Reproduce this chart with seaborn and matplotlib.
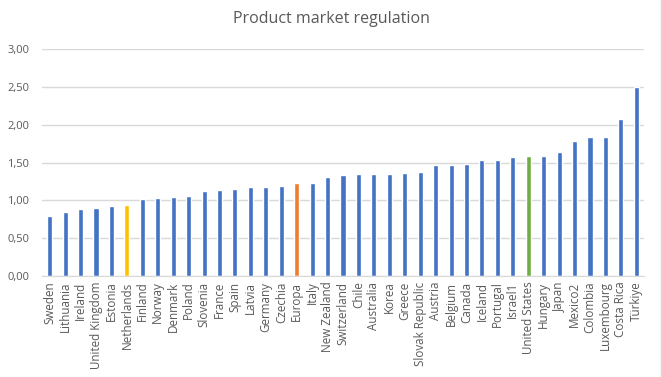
import matplotlib
matplotlib.use("Agg")
import matplotlib.pyplot as plt
from matplotlib.ticker import FuncFormatter, MultipleLocator
from matplotlib.lines import Line2D
import seaborn as sns
import pandas as pd

countries = ["Sweden", "Lithuania", "Ireland", "United Kingdom", "Estonia", "Netherlands",
             "Finland", "Norway", "Denmark", "Poland", "Slovenia", "France", "Spain",
             "Latvia", "Germany", "Czechia", "Europa", "Italy", "New Zealand",
             "Switzerland", "Chile", "Australia", "Korea", "Greece", "Slovak Republic",
             "Austria", "Belgium", "Canada", "Iceland", "Portugal", "Israel1",
             "United States", "Hungary", "Japan", "Mexico2", "Colombia", "Luxembourg",
             "Costa Rica", "Türkiye"]
pmr = [0.79, 0.845, 0.885, 0.90, 0.925, 0.94,
       1.015, 1.03, 1.045, 1.06, 1.12, 1.135, 1.15,
       1.175, 1.175, 1.19, 1.23, 1.23, 1.31,
       1.335, 1.35, 1.35, 1.35, 1.36, 1.375,
       1.47, 1.47, 1.48, 1.53, 1.53, 1.57,
       1.585, 1.585, 1.64, 1.78, 1.835, 1.835,
       2.07, 2.50]

highlight = {"Netherlands": "#FFC000", "Europa": "#ED7D31", "United States": "#70AD47"}
colors = [highlight.get(c, "#4472C4") for c in countries]

df = pd.DataFrame({"country": countries, "pmr": pmr})

sns.set_style("white")
plt.rcParams["font.family"] = ["Open Sans", "DejaVu Sans"]

fig = plt.figure(figsize=(6.62, 3.77), dpi=100)
ax = fig.add_axes([42 / 662, 1 - 276 / 377, 602 / 662, 227 / 377])

sns.barplot(data=df, x="country", y="pmr", hue="country", palette=colors,
            width=0.33, legend=False, ax=ax, saturation=1)

ax.set_ylim(0, 3)
ax.set_xlim(-0.5, len(countries) - 0.5)
ax.yaxis.set_major_locator(MultipleLocator(0.5))
ax.yaxis.set_major_formatter(FuncFormatter(lambda v, p: f"{v:.2f}".replace(".", ",")))
ax.grid(axis="y", color="#D9D9D9", linewidth=1)
ax.set_axisbelow(True)
for s in ["top", "right", "left"]:
    ax.spines[s].set_visible(False)
ax.spines["bottom"].set_color("#D9D9D9")
ax.tick_params(axis="x", labelrotation=90, length=0, labelsize=8.4, labelcolor="#595959", pad=4)
ax.tick_params(axis="y", length=0, labelsize=8.0, labelcolor="#595959", pad=9)
ax.set_xlabel("")
ax.set_ylabel("")

fig.text(0.5, 1 - 19 / 377, "Product market regulation", ha="center", va="center",
         fontsize=11.5, color="#595959")
# chart-area border on the right edge
fig.lines.append(Line2D([660.5 / 662, 660.5 / 662], [0, 1], transform=fig.transFigure,
                        color="#D9D9D9", linewidth=1))

fig.savefig("out.png", dpi=100)
